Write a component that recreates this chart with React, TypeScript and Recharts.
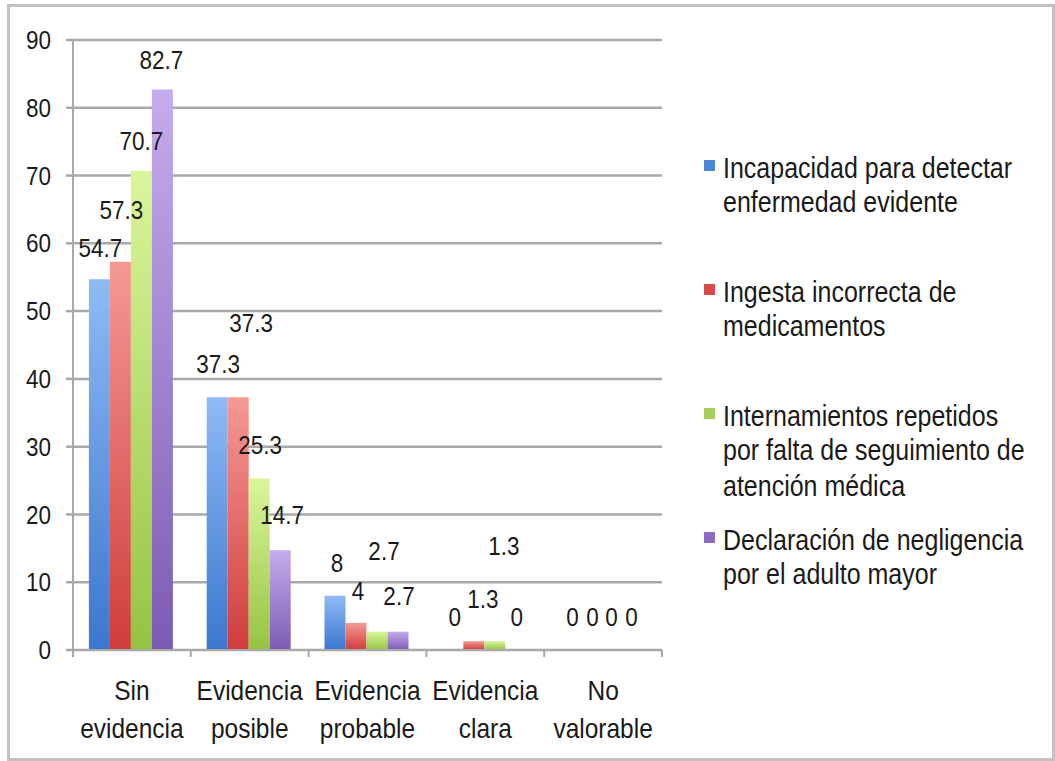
import { BarChart, Bar, XAxis, YAxis, CartesianGrid, LabelList } from 'recharts';

// categorías del eje X
const CATEGORIES = ['Sin evidencia', 'Evidencia posible', 'Evidencia probable', 'Evidencia clara', 'No valorable'];

// nombres de las series (leyenda)
const SERIES_NAMES = [
    'Incapacidad para detectar enfermedad evidente',
    'Ingesta incorrecta de medicamentos',
    'Internamientos repetidos por falta de seguimiento de atención médica',
    'Declaración de negligencia por el adulto mayor',
];

// valores (%) por serie
const INCAPACIDAD = [54.7, 37.3, 8, 0, 0];
const INGESTA = [57.3, 37.3, 4, 1.3, 0];
const INTERNAMIENTOS = [70.7, 25.3, 2.7, 1.3, 0];
const DECLARACION = [82.7, 14.7, 2.7, 0, 0];

const Y_TICKS = [0, 10, 20, 30, 40, 50, 60, 70, 80, 90];

// estilos
const FONT = '"Liberation Sans", Arial, sans-serif';
const SY = 1.15; // el original está un poco estirado en vertical
const GRID = '#a9a9a9';
const GRADIENTS = [
    ['#8fbaf5', '#3b77cf'],
    ['#f59995', '#ce3d3b'],
    ['#daf69c', '#95c342'],
    ['#c5acec', '#7c5bb3'],
];
const SWATCHES = ['#4a86d6', '#d84a48', '#a6d05a', '#8e6cc4'];

// desplazamiento manual de etiquetas [dx, elevación extra] como en el original
const LABEL_NUDGE = [
    [[1, -2], [1, 0], [2, 0], [2, 0], [2, 0]],
    [[1, 19], [13, 41], [2, -1], [9, 9], [1, 0]],
    [[0, -3], [1, 1], [7, 48], [9, 62], [-1, 0]],
    [[-1, -3], [2, 2], [1, 3], [1, 0], [-2, 0]],
];

const CHART_W = 1055;
const CHART_H = 761;
const PLOT_LEFT = 73;
const PLOT_RIGHT = 662;
const BAND = (PLOT_RIGHT - PLOT_LEFT) / CATEGORIES.length;

const seriesValues = [INCAPACIDAD, INGESTA, INTERNAMIENTOS, DECLARACION];
const data = CATEGORIES.map((name, i) => {
    const row: Record<string, string | number> = { name };
    seriesValues.forEach((vals, s) => { row['s' + s] = vals[i]; });
    return row;
});

const StretchText = ({ x, y, size, anchor = 'middle', children }: any) => (
    <text
        x={0}
        y={0}
        transform={`translate(${x},${y}) scale(1,${SY})`}
        textAnchor={anchor}
        dominantBaseline="central"
        fontFamily={FONT}
        fontSize={size}
        fill="#1a1a1a"
    >
        {children}
    </text>
);

const YTick = ({ x, y, payload }: any) => (
    <StretchText x={x} y={y} size={22.5} anchor="end">{payload.value}</StretchText>
);

const XTick = ({ x, y, payload, index }: any) => {
    const lines = String(payload.value).split(' ');
    const left = x - BAND / 2;
    return (
        <g>
            <line x1={left} y1={y} x2={left} y2={y + 7} stroke={GRID} strokeWidth={2} />
            {index === CATEGORIES.length - 1 && (
                <line x1={x + BAND / 2} y1={y} x2={x + BAND / 2} y2={y + 7} stroke={GRID} strokeWidth={2} />
            )}
            {lines.map((l, k) => (
                <StretchText key={k} x={x} y={y + 40 + k * 38} size={24.5}>{l}</StretchText>
            ))}
        </g>
    );
};

const makeLabel = (s: number) => (props: any) => {
    const { x, y, width, height, value, index } = props;
    const [dx, lift] = LABEL_NUDGE[s][index] ?? [0, 0];
    // barras en cero: el rectángulo mínimo queda invisible, la etiqueta va sobre el eje
    const top = Math.min(y, y + height);
    return (
        <StretchText x={x + width / 2 + dx} y={top - 33 - lift} size={22.5}>{value}</StretchText>
    );
};

const Legend = () => (
    <>
        {SERIES_NAMES.map((n, i) => (
            <div key={n} style={{ position: 'absolute', left: 704, top: 150 + i * 124 }}>
                <div style={{ position: 'absolute', left: 0, top: 10, width: 11, height: 11, background: SWATCHES[i] }} />
                <div
                    style={{
                        position: 'absolute',
                        left: 19,
                        top: 0,
                        width: 312,
                        fontFamily: FONT,
                        fontSize: 25,
                        lineHeight: `${35 / SY}px`,
                        color: '#1a1a1a',
                        transform: `scaleY(${SY})`,
                        transformOrigin: 'top left',
                    }}
                >
                    {n}
                </div>
            </div>
        ))}
    </>
);

export default function App() {
    return (
        <div style={{ position: 'absolute', left: 0, top: 0, width: CHART_W, height: CHART_H, background: '#fff', overflow: 'hidden' }}>
            <div
                style={{
                    position: 'absolute',
                    left: 7,
                    top: 4,
                    width: 1048,
                    height: 757,
                    border: '3px solid #c2c2c2',
                    boxSizing: 'border-box',
                }}
            />
            <BarChart
                width={CHART_W}
                height={CHART_H}
                data={data}
                margin={{ top: 40, right: CHART_W - PLOT_RIGHT, bottom: 11, left: 0 }}
                barCategoryGap="13.5%"
                barGap={0}
            >
                <defs>
                    {GRADIENTS.map(([a, b], i) => (
                        <linearGradient key={i} id={'g' + i} x1="0" y1="0" x2="0" y2="1">
                            <stop offset="0%" stopColor={a} />
                            <stop offset="100%" stopColor={b} />
                        </linearGradient>
                    ))}
                </defs>
                <CartesianGrid vertical={false} stroke={GRID} strokeWidth={2.5} />
                <YAxis
                    width={PLOT_LEFT}
                    domain={[0, 90]}
                    ticks={Y_TICKS}
                    interval={0}
                    tickSize={7}
                    tickMargin={15}
                    tickLine={{ stroke: GRID, strokeWidth: 2.5 }}
                    axisLine={{ stroke: GRID, strokeWidth: 2 }}
                    tick={<YTick />}
                />
                <XAxis
                    dataKey="name"
                    height={100}
                    interval={0}
                    tickSize={0}
                    tickMargin={0}
                    tickLine={false}
                    axisLine={{ stroke: GRID, strokeWidth: 2 }}
                    tick={<XTick />}
                />
                {SERIES_NAMES.map((n, s) => (
                    <Bar
                        key={n}
                        dataKey={'s' + s}
                        name={n}
                        fill={`url(#g${s})`}
                        minPointSize={0.01}
                        isAnimationActive={false}
                    >
                        <LabelList dataKey={'s' + s} content={makeLabel(s)} />
                    </Bar>
                ))}
            </BarChart>
            <Legend />
        </div>
    );
}
